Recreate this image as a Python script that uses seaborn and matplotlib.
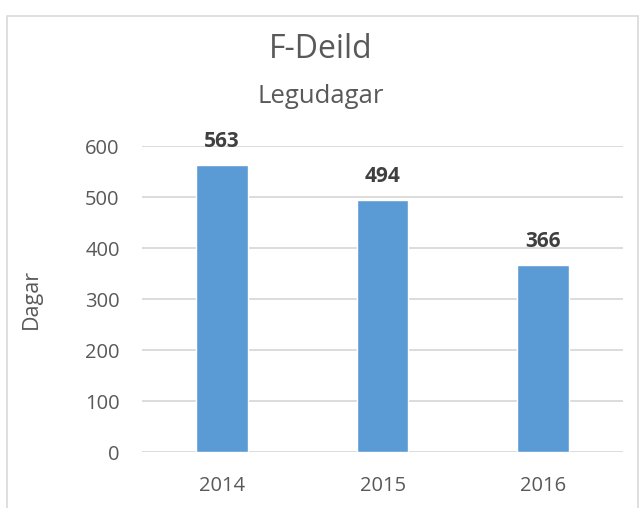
import matplotlib
matplotlib.use("Agg")
import matplotlib.pyplot as plt
import seaborn as sns
import pandas as pd
from matplotlib.patches import Rectangle

# Gögn
years = ["2014", "2015", "2016"]
days = [563, 494, 366]

df = pd.DataFrame({"Ár": years, "Dagar": days})

sns.set_style("white")
plt.rcParams["font.family"] = ["Open Sans", "DejaVu Sans"]

fig = plt.figure(figsize=(6.42, 5.08), dpi=100)
ax = fig.add_axes([0.221, 0.110, 0.750, 0.6024])

sns.barplot(data=df, x="Ár", y="Dagar", color="#5B9BD5", width=0.32,
            saturation=1, ax=ax, zorder=3)

ax.set_ylim(0, 600)
ax.set_yticks(range(0, 601, 100))
ax.yaxis.grid(True, color="#D9D9D9", linewidth=1.3, zorder=0)
ax.set_axisbelow(True)
sns.despine(ax=ax, left=True, bottom=True)
ax.tick_params(axis="both", length=0, labelsize=14.5, labelcolor="#595959")
ax.tick_params(axis="x", pad=17)
ax.tick_params(axis="y", pad=16)
ax.set_xlabel("")
ax.set_ylabel("Dagar", fontsize=15.5, color="#595959")
ax.yaxis.set_label_coords(-0.208, 0.5)

# Gildi ofan á súlum
for i, v in enumerate(days):
    ax.annotate(str(v), (i, v), xytext=(0, 17), textcoords="offset points",
                ha="center", va="center", fontsize=15, fontweight="bold",
                color="#404040")

fig.text(0.5, 0.902, "F-Deild", ha="center", va="center", fontsize=23, color="#595959")
fig.text(0.5, 0.81, "Legudagar", ha="center", va="center", fontsize=18.5, color="#595959")

# Rammi utan um myndina
fig.patches.append(Rectangle((7 / 642, -0.02), 631 / 642, 0.005 + 500 / 508,
                             transform=fig.transFigure, fill=False,
                             edgecolor="#D9D9D9", linewidth=1.2))

fig.savefig("out.png", dpi=100)
